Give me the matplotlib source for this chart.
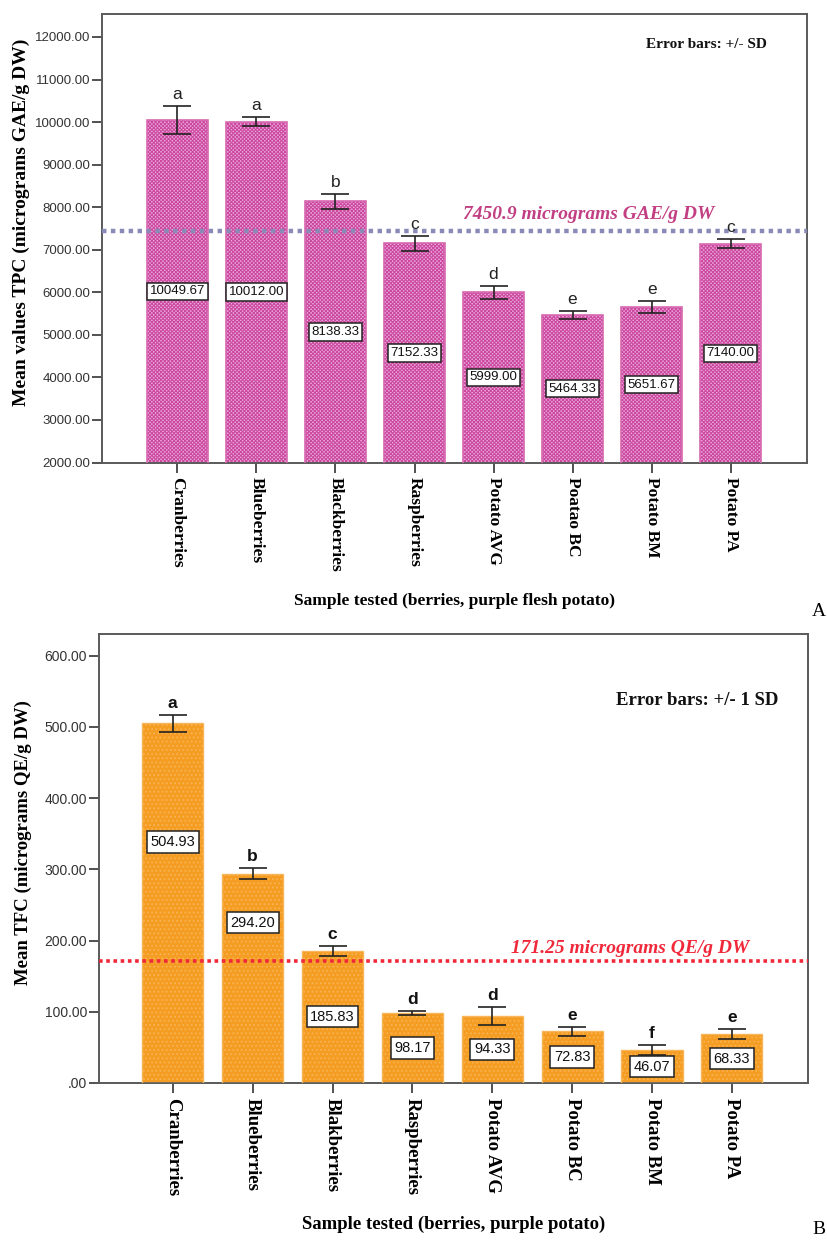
import matplotlib
matplotlib.use("Agg")
import matplotlib.pyplot as plt
from matplotlib.ticker import FuncFormatter, MultipleLocator

# ---------------- data ----------------
cats_top = ["Cranberries", "Blueberries", "Blackberries", "Raspberries",
            "Potato AVG", "Poatao BC", "Potato BM", "Potato PA"]
tpc_mean = [10049.67, 10012.00, 8138.33, 7152.33, 5999.00, 5464.33, 5651.67, 7140.00]
tpc_sd = [330, 105, 177, 173, 146, 87, 146, 110]
tpc_letters = ["a", "a", "b", "c", "d", "e", "e", "c"]
tpc_ref = 7450.9
tpc_ref_label = "7450.9 micrograms GAE/g DW"

cats_bot = ["Cranberries", "Blueberries", "Blakberries", "Raspberries",
            "Potato AVG", "Potato BC", "Potato BM", "Potato PA"]
tfc_mean = [504.93, 294.20, 185.83, 98.17, 94.33, 72.83, 46.07, 68.33]
tfc_sd = [11.5, 8.1, 7.0, 2.6, 12.9, 6.3, 7.0, 7.0]
tfc_letters = ["a", "b", "c", "d", "d", "e", "f", "e"]
tfc_ref = 171.25
tfc_ref_label = "171.25 micrograms QE/g DW"

# label placement as fraction of visible bar height (style)
top_label_frac = [0.5] * 8
bot_label_frac = [0.67, 0.765, 0.5, 0.5, 0.5, 0.5, 0.5, 0.5]

SERIF = "Liberation Serif"
SANS = "Liberation Sans"
plt.rcParams["hatch.linewidth"] = 0.75

W, H = 827, 1243
fig = plt.figure(figsize=(W / 100, H / 100), dpi=100)

def fmt(v, pos):
    s = f"{v:.2f}"
    if s.startswith("0."):
        s = s[1:]
    return s

def style_axes(ax, ticklabel_size):
    for sp in ax.spines.values():
        sp.set_color("#5a5a5a")
        sp.set_linewidth(1.4)
    ax.tick_params(axis="both", direction="out", length=7, width=1.2, color="#333333")
    ax.tick_params(axis="y", labelsize=ticklabel_size, labelcolor="#333333", pad=1.5)
    ax.yaxis.set_major_formatter(FuncFormatter(fmt))
    for lab in ax.get_yticklabels():
        lab.set_family(SANS)

# ================= Panel A =================
axA = fig.add_axes([102 / W, 1 - 462.5 / H, 705 / W, 448.5 / H])
xA = list(range(len(cats_top)))
axA.bar(xA, tpc_mean, width=0.77, bottom=0, color="#e9a8e6", hatch="x" * 9,
        edgecolor="#cc4898", linewidth=0, zorder=2)
axA.bar(xA, tpc_mean, width=0.77, bottom=0, color="none",
        edgecolor="#d86ab2", linewidth=1.2, zorder=3)
axA.errorbar(xA, tpc_mean, yerr=tpc_sd, fmt="none", ecolor="#222222",
             elinewidth=1.2, capsize=10, capthick=1.2, zorder=5)
axA.set_ylim(2000, 12540)
axA.set_xlim(-0.955, 7.967)
axA.yaxis.set_major_locator(MultipleLocator(1000))
axA.set_xticks(xA)
axA.set_xticklabels(cats_top, rotation=270, fontsize=12.5, family=SERIF,
                    fontweight="bold", va="top", ha="center")
style_axes(axA, 9.5)
axA.axhline(tpc_ref, color="#8a8ab8", linestyle=(0, (1, 1)), linewidth=3.2, zorder=4)
axA.annotate(tpc_ref_label, xy=(5.2, tpc_ref), xytext=(0, 8), textcoords="offset points",
             ha="center", va="baseline", fontsize=14, family=SERIF,
             fontweight="bold", style="italic", color="#c23f84", zorder=6)
for i, (m, s, l) in enumerate(zip(tpc_mean, tpc_sd, tpc_letters)):
    axA.annotate(l, xy=(i, m + s), xytext=(0, 5), textcoords="offset points",
                 ha="center", va="baseline", fontsize=12.5, family=SANS,
                 color="#222222", zorder=6)
    ylab = 2000 + (m - 2000) * top_label_frac[i]
    axA.text(i, ylab, f"{m:.2f}", ha="center", va="center", fontsize=9.5,
             family=SANS, color="#111111", zorder=7,
             bbox=dict(boxstyle="square,pad=0.2", fc="white", ec="#222222", lw=1.1))
axA.text(0.943, 0.933, "Error bars: +/- SD", transform=axA.transAxes, ha="right",
         va="center", fontsize=11, family=SERIF, fontweight="bold", color="#111111")
axA.set_ylabel("Mean values TPC (micrograms GAE/g DW)", family=SERIF,
               fontweight="bold", fontsize=14)
axA.yaxis.set_label_coords(-0.102, 0.535)
axA.set_xlabel("Sample tested (berries, purple flesh potato)", family=SERIF,
               fontweight="bold", fontsize=12.5, labelpad=15)
fig.text(826 / W, 1 - 612 / H, "A", family=SERIF, fontsize=14, va="center", ha="right")

# ================= Panel B =================
axB = fig.add_axes([99 / W, 1 - 1083 / H, 709 / W, 449.3 / H])
xB = list(range(len(cats_bot)))
axB.bar(xB, tfc_mean, width=0.765, color="#f59d22", hatch="." * 4,
        edgecolor="#f8b455", linewidth=0, zorder=2)
axB.bar(xB, tfc_mean, width=0.765, color="none",
        edgecolor="#f7b65a", linewidth=1.0, zorder=3)
axB.errorbar(xB, tfc_mean, yerr=tfc_sd, fmt="none", ecolor="#222222",
             elinewidth=1.2, capsize=10, capthick=1.2, zorder=5)
axB.set_ylim(0, 631)
axB.set_xlim(-0.924, 7.953)
axB.yaxis.set_major_locator(MultipleLocator(100))
axB.set_xticks(xB)
axB.set_xticklabels(cats_bot, rotation=270, fontsize=13.5, family=SERIF,
                    fontweight="bold", va="top", ha="center")
style_axes(axB, 10)
axB.axhline(tfc_ref, color="#f0283a", linestyle=(0, (1, 1)), linewidth=2.6, zorder=4)
axB.annotate(tfc_ref_label, xy=(5.73, tfc_ref), xytext=(0, 6), textcoords="offset points",
             ha="center", va="baseline", fontsize=14, family=SERIF,
             fontweight="bold", style="italic", color="#f0283a", zorder=6)
for i, (m, s, l) in enumerate(zip(tfc_mean, tfc_sd, tfc_letters)):
    axB.annotate(l, xy=(i, m + s), xytext=(0, 5), textcoords="offset points",
                 ha="center", va="baseline", fontsize=12.5, family=SANS,
                 fontweight="bold", color="#111111", zorder=6)
    axB.text(i, m * bot_label_frac[i], f"{m:.2f}", ha="center", va="center",
             fontsize=10.5, family=SANS, color="#111111", zorder=7,
             bbox=dict(boxstyle="square,pad=0.25", fc="white", ec="#222222", lw=1.1))
axB.text(0.958, 0.852, "Error bars: +/- 1 SD", transform=axB.transAxes, ha="right",
         va="center", fontsize=13.5, family=SERIF, fontweight="bold", color="#111111")
axB.set_ylabel("Mean TFC (micrograms QE/g DW)", family=SERIF,
               fontweight="bold", fontsize=13.5)
axB.yaxis.set_label_coords(-0.094, 0.535)
axB.set_xlabel("Sample tested (berries, purple potato)", family=SERIF,
               fontweight="bold", fontsize=13.5, labelpad=14)
fig.text(826 / W, 1 - 1230 / H, "B", family=SERIF, fontsize=14, va="center", ha="right")

fig.savefig("out.png", dpi=100)
